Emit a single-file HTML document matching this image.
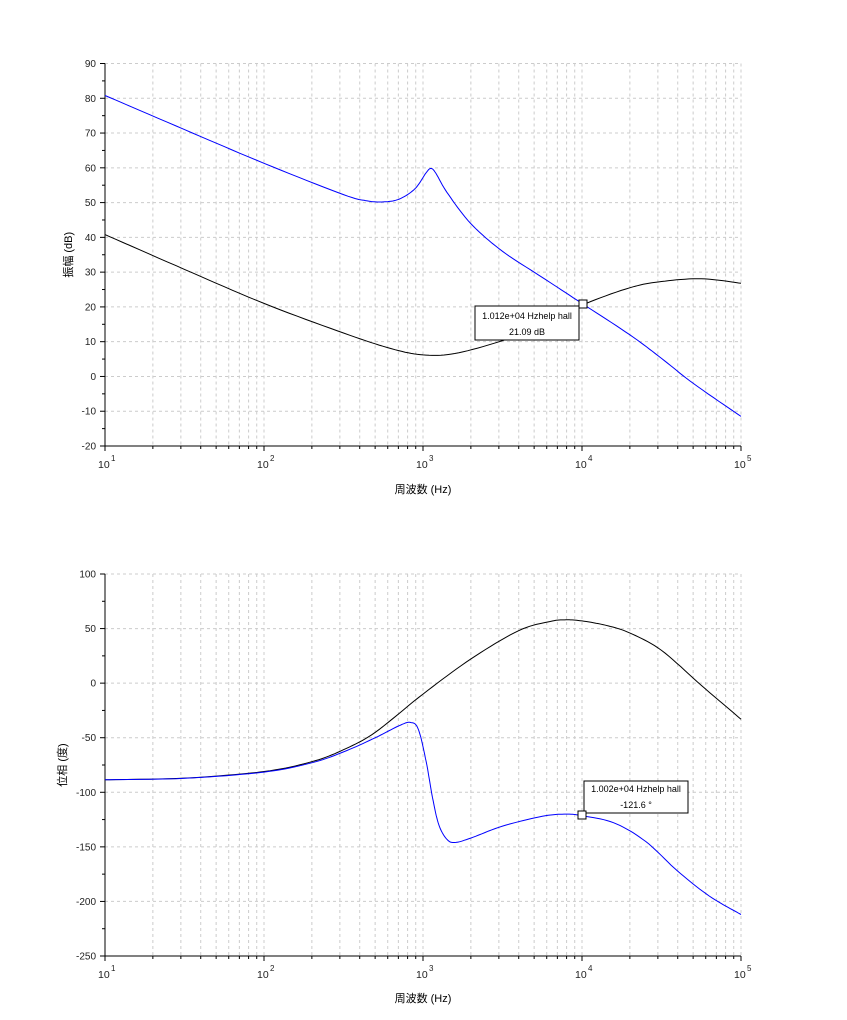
<!DOCTYPE html>
<html><head><meta charset="utf-8"><style>
body{margin:0;background:#fff;}
svg{display:block;font-family:"Liberation Sans","Noto Sans CJK JP",sans-serif;}
</style></head><body>
<svg id="s" width="847" height="1020" xmlns="http://www.w3.org/2000/svg"></svg>
<script>
const S=document.getElementById('s');let h='';
const X0=105,DW=159;
function X(l){return X0+(l-1)*DW;}
function cr(pts,map){let p=pts.map(map);let d='M'+p[0][0].toFixed(1)+','+p[0][1].toFixed(1);
for(let i=0;i<p.length-1;i++){const a=p[Math.max(0,i-1)],b=p[i],c=p[i+1],e=p[Math.min(p.length-1,i+2)];
for(let t=0.1;t<=1.001;t+=0.1){const t2=t*t,t3=t2*t;
const f=(k)=>0.5*((2*b[k])+(-a[k]+c[k])*t+(2*a[k]-5*b[k]+4*c[k]-e[k])*t2+(-a[k]+3*b[k]-3*c[k]+e[k])*t3);
d+=' L'+f(0).toFixed(1)+','+f(1).toFixed(1);}}return d;}
function axes(top,bot,vmin,vmax,step,minor,ylab,xlabY,ylabX){
const Y=v=>bot-(v-vmin)/(vmax-vmin)*(bot-top);
for(let d=1;d<5;d++)for(let m=2;m<=9;m++){const x=X(d+Math.log10(m));h+=`<line x1="${x}" y1="${top}" x2="${x}" y2="${bot}" stroke="#ccc" stroke-dasharray="3,3"/>`;}
for(let d=2;d<=5;d++){const x=X(d);h+=`<line x1="${x}" y1="${top}" x2="${x}" y2="${bot}" stroke="#ccc" stroke-dasharray="3,3"/>`;}
for(let v=vmin;v<=vmax;v+=step){const y=Y(v);if(v>vmin)h+=`<line x1="${X0}" y1="${y}" x2="741" y2="${y}" stroke="#ccc" stroke-dasharray="3,3"/>`;
h+=`<line x1="${X0-5}" y1="${y}" x2="${X0}" y2="${y}" stroke="#000"/><text x="${X0-9}" y="${y+3.5}" font-size="10" text-anchor="end" fill="#222">${v}</text>`;}
for(let v=vmin+minor;v<vmax;v+=step){const y=Y(v);h+=`<line x1="${X0-3}" y1="${y}" x2="${X0}" y2="${y}" stroke="#000"/>`;}
h+=`<line x1="${X0}" y1="${top}" x2="${X0}" y2="${bot}" stroke="#000"/><line x1="${X0}" y1="${bot}" x2="741" y2="${bot}" stroke="#000"/>`;
for(let d=1;d<=5;d++){const x=X(d);h+=`<line x1="${x}" y1="${bot}" x2="${x}" y2="${bot+5}" stroke="#000"/><text x="${x-7}" y="${bot+22}" font-size="10.5" fill="#222">10</text><text x="${x+6}" y="${bot+15}" font-size="8" fill="#222">${d}</text>`;
if(d<5)for(let m=2;m<=9;m++){const x2=X(d+Math.log10(m));h+=`<line x1="${x2}" y1="${bot}" x2="${x2}" y2="${bot+3}" stroke="#000"/>`;}}
h+=`<text x="423" y="${xlabY}" font-size="11" text-anchor="middle">周波数 (Hz)</text>`;
h+=`<text transform="translate(${ylabX},${(top+bot)/2}) rotate(-90)" font-size="11" text-anchor="middle">${ylab}</text>`;
return Y;}
let Y1=axes(63.5,446,-20,90,10,5,'振幅 (dB)',493,72);
const bk1=[[1,40.8],[1.5,30.8],[2,21],[2.5,12.5],[2.8,8],[3,6.2],[3.2,6.6],[3.5,10.3],[3.8,15.5],[4,20.5],[4.3,25.5],[4.5,27.3],[4.75,28.1],[5,26.8]];
const bl1=[[1,80.8],[1.5,71],[2,61.3],[2.5,52.3],[2.65,50.5],[2.75,50.2],[2.85,51],[2.95,54],[3.02,58.6],[3.05,59.8],[3.08,58.5],[3.15,53],[3.3,44],[3.5,36],[3.75,28.5],[4,21],[4.3,12],[4.5,5.2],[4.7,-2],[5,-11.5]];
h+=`<path d="${cr(bk1,p=>[X(p[0]),Y1(p[1])])}" fill="none" stroke="#000"/>`;
h+=`<path d="${cr(bl1,p=>[X(p[0]),Y1(p[1])])}" fill="none" stroke="#00f"/>`;
h+=`<rect x="475" y="306" width="104" height="34" fill="#fff" stroke="#000"/><text x="527" y="319" font-size="9" text-anchor="middle">1.012e+04 Hzhelp hall</text><text x="527" y="335" font-size="9" text-anchor="middle">21.09 dB</text><rect x="579" y="300" width="8" height="8" fill="#fff" stroke="#000"/>`;
let Y2=axes(574,956,-250,100,50,25,'位相 (度)',1002,66);
const bk2=[[1,-88.5],[1.5,-87],[2,-81],[2.3,-72],[2.5,-61],[2.7,-45],[3,-10],[3.3,22],[3.6,48],[3.8,56.5],[3.9,58],[4,57],[4.15,53],[4.3,46],[4.5,30],[4.75,-2],[5,-33]];
const bl2=[[1,-88.5],[1.5,-87.2],[2,-81.5],[2.3,-73],[2.5,-63],[2.7,-50],[2.85,-39],[2.92,-36],[2.97,-42],[3.02,-72],[3.06,-105],[3.1,-130],[3.15,-143],[3.2,-146],[3.3,-142],[3.5,-131],[3.75,-122],[3.9,-120],[4,-121.5],[4.2,-128],[4.4,-145],[4.6,-172],[4.8,-195],[5,-212]];
h+=`<path d="${cr(bk2,p=>[X(p[0]),Y2(p[1])])}" fill="none" stroke="#000"/>`;
h+=`<path d="${cr(bl2,p=>[X(p[0]),Y2(p[1])])}" fill="none" stroke="#00f"/>`;
h+=`<rect x="584" y="781" width="104" height="32" fill="#fff" stroke="#000"/><text x="636" y="792" font-size="9" text-anchor="middle">1.002e+04 Hzhelp hall</text><text x="636" y="808" font-size="9" text-anchor="middle">-121.6 °</text><rect x="578" y="811" width="8" height="8" fill="#fff" stroke="#000"/>`;
S.innerHTML=h;
</script>
</body></html>
